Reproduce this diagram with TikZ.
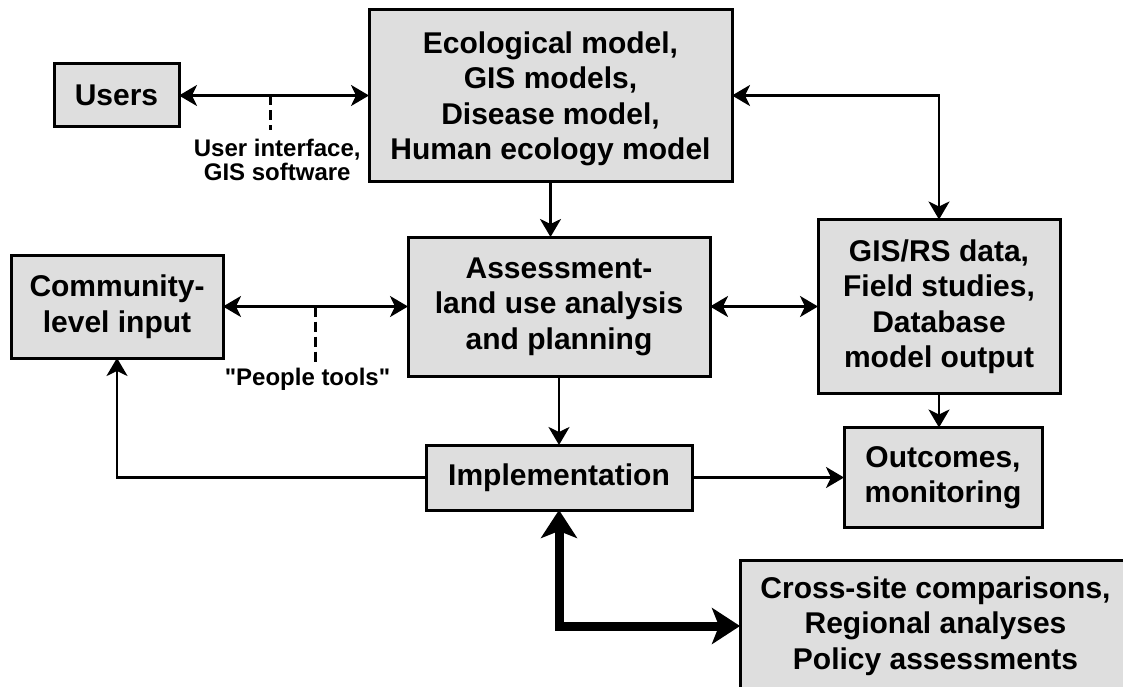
\documentclass[tikz,border=0pt]{standalone}
\usepackage{fontspec}
\setmainfont{Liberation Sans}[Ligatures=TeXOff]
\usepackage{tikz}
\usetikzlibrary{arrows.meta, positioning}

\begin{document}
\begin{tikzpicture}[
    x=1pt, y=1pt,
    >={Stealth[length=18pt, width=21pt, inset=5pt]},
    block/.style={rectangle, draw=black, fill=black!13, line width=3pt, inner sep=0pt, outer sep=0pt, align=center, font=\fontsize{30}{35.5}\selectfont\bfseries},
    note/.style={inner sep=2pt, align=center, font=\fontsize{24}{24}\selectfont\bfseries},
    arrow/.style={->, line width=2.6pt},
    twoway/.style={<->, line width=2.6pt},
    tool/.style={line width=2.6pt, dash pattern=on 10pt off 5pt},
    bigarrow/.style={{Stealth[length=28pt, width=36pt, inset=7pt]}-{Stealth[length=28pt, width=36pt, inset=7pt]}, line width=9pt}
]
\useasboundingbox (0,0) rectangle (1123,-687);

% Top: Users and Models
\node[block, minimum width=363pt, minimum height=171pt, text depth=0pt] (eco) at (550.5,-95.5) {Ecological model,\\GIS models,\\Disease model,\\Human ecology model};
\node[block, minimum width=125pt, minimum height=63pt, left=190pt of eco] (users) {Users};

% Middle: Community, Assessment and Data
\node[block, minimum width=302pt, minimum height=139pt, below=56pt of eco, xshift=8.5pt] (assess) {Assessment-\\land use analysis\\and planning};
\node[block, minimum width=212pt, minimum height=103pt, left=185pt of assess] (comm) {Community-\\level input};
\node[block, minimum width=242pt, minimum height=174pt, right=108pt of assess] (gis) {GIS/RS data,\\Field studies,\\Database\\model output};

% Bottom: Implementation and Outcomes
\node[block, minimum width=266pt, minimum height=65pt, below=69pt of assess] (impl) {Implementation};
\node[block, minimum width=198pt, minimum height=100pt, right=152pt of impl] (outc) {Outcomes,\\monitoring};
\node[block, minimum width=391pt, minimum height=132pt, below right=50pt and 48pt of impl] (cross) {Cross-site comparisons,\\Regional analyses\\Policy assessments};

% Tool links
\draw[twoway] (users) -- coordinate[pos=0.48] (uitap) (eco);
\coordinate[below=35pt of uitap] (uiend);
\draw[tool] (uitap) -- (uiend);
\node[note, below=6.5pt of uiend, xshift=7pt] (uilabel) {User interface,\\GIS software};

\draw[twoway] (comm) -- coordinate[pos=0.5] (pttap) (assess);
\coordinate[below=58pt of pttap] (ptend);
\draw[tool] (pttap) -- (ptend);
\node[note, below=1.5pt of ptend, xshift=-8pt] (ptlabel) {"People tools"};

% Connectors
\draw[arrow] (eco.south) -- (eco.south |- assess.north);
\draw[twoway] (eco) -| (gis);
\draw[twoway] (assess.east |- gis.west) -- (gis.west);
\draw[arrow] (assess) -- (impl);
\draw[arrow] (gis.south) -- (gis.south |- outc.north);
\draw[arrow] (impl.east) -- (impl.east -| outc.west);
\draw[arrow] (impl.west) -| (comm);
\draw[bigarrow] (impl.south) |- (cross.west);

\end{tikzpicture}
\end{document}
